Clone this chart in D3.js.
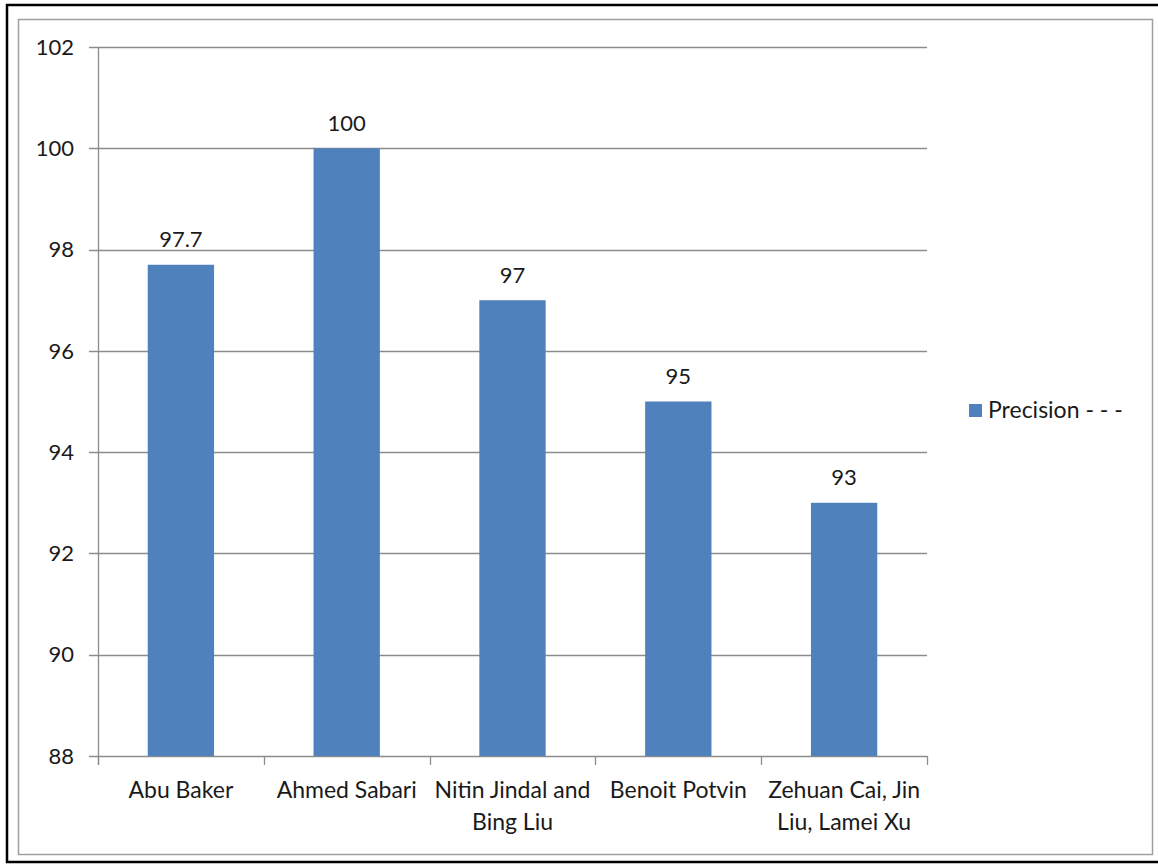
<!DOCTYPE html>
<html>
<head>
  <title>Precision</title>
  <script src="https://d3js.org/d3.v7.min.js"></script>
  <style>
    body { margin: 0; background: #fff; }
    text { font-family: Lato, "Open Sans", sans-serif; fill: #1a1a1a; }
  </style>
</head>
<body>
  <div id="chart"></div>

  <script>
    const authors = ["Abu Baker", "Ahmed Sabari", "Nitin Jindal and Bing Liu", "Benoit Potvin", "Zehuan Cai, Jin Liu, Lamei Xu"];
    const authorLines = [["Abu Baker"], ["Ahmed Sabari"], ["Nitin Jindal and", "Bing Liu"], ["Benoit Potvin"], ["Zehuan Cai, Jin", "Liu, Lamei Xu"]];
    const precision = [97.7, 100, 97, 95, 93];
    const yTicks = [88, 90, 92, 94, 96, 98, 100, 102];
    const seriesName = "Precision - - -";

    const width = 1158, height = 865;
    const plot = {left: 98, right: 927, top: 47, bottom: 756};
    const fs = 23;

    const svg = d3.select("#chart")
      .append("svg")
      .attr("width", width)
      .attr("height", height);

    // frames
    svg.append("rect")
      .attr("x", 7).attr("y", 5)
      .attr("width", 1170).attr("height", 857)
      .attr("fill", "none").attr("stroke", "#000").attr("stroke-width", 2.5);
    svg.append("rect")
      .attr("x", 18.5).attr("y", 19.5)
      .attr("width", 1134).attr("height", 835)
      .attr("fill", "none").attr("stroke", "#a0a0a0").attr("stroke-width", 1.5);

    const x = d3.scaleBand()
      .domain(authors)
      .range([plot.left, plot.right])
      .paddingInner(0.6)
      .paddingOuter(0.3);

    const y = d3.scaleLinear()
      .domain([88, 102])
      .range([plot.bottom, plot.top]);

    // gridlines
    svg.append("g")
      .selectAll("line")
      .data(yTicks)
      .join("line")
      .attr("x1", plot.left - 9)
      .attr("x2", plot.right)
      .attr("y1", d => Math.round(y(d)) + 0.5)
      .attr("y2", d => Math.round(y(d)) + 0.5)
      .attr("stroke", "#8c8c8c")
      .attr("stroke-width", 1.3);

    // y labels
    svg.append("g")
      .selectAll("text")
      .data(yTicks)
      .join("text")
      .attr("x", 74)
      .attr("y", d => y(d))
      .attr("dy", "0.35em")
      .attr("text-anchor", "end")
      .attr("font-size", fs - 1)
      .text(d => d);

    // y axis line
    svg.append("line")
      .attr("x1", plot.left + 0.5).attr("x2", plot.left + 0.5)
      .attr("y1", plot.top).attr("y2", plot.bottom + 9)
      .attr("stroke", "#8c8c8c").attr("stroke-width", 1.3);

    // x ticks at category boundaries
    const bounds = authors.map(a => x(a) - x.step() * x.paddingInner() / 2).concat([plot.right]);
    svg.append("g")
      .selectAll("line")
      .data(bounds)
      .join("line")
      .attr("x1", d => Math.round(d) + 0.5)
      .attr("x2", d => Math.round(d) + 0.5)
      .attr("y1", plot.bottom)
      .attr("y2", plot.bottom + 9)
      .attr("stroke", "#8c8c8c")
      .attr("stroke-width", 1.3);

    // bars
    svg.append("g")
      .selectAll("rect")
      .data(precision)
      .join("rect")
      .attr("x", (d, i) => x(authors[i]))
      .attr("y", d => y(d))
      .attr("width", x.bandwidth())
      .attr("height", d => y(88) - y(d))
      .attr("fill", "#4f81bd");

    // value labels
    svg.append("g")
      .selectAll("text")
      .data(precision)
      .join("text")
      .attr("x", (d, i) => x(authors[i]) + x.bandwidth() / 2)
      .attr("y", d => y(d) - 25)
      .attr("dy", "0.35em")
      .attr("text-anchor", "middle")
      .attr("font-size", fs - 1)
      .text(d => d);

    // category labels
    const cat = svg.append("g")
      .selectAll("text")
      .data(authorLines)
      .join("text")
      .attr("x", (d, i) => x(authors[i]) + x.bandwidth() / 2)
      .attr("y", 790)
      .attr("text-anchor", "middle")
      .attr("font-size", fs);
    cat.selectAll("tspan")
      .data(d => d)
      .join("tspan")
      .attr("x", function() { return this.parentNode.getAttribute("x"); })
      .attr("dy", (d, i) => i === 0 ? "0.35em" : 32)
      .text(d => d);

    // legend
    svg.append("rect")
      .attr("x", 969).attr("y", 404)
      .attr("width", 13).attr("height", 13)
      .attr("fill", "#4f81bd");
    svg.append("text")
      .attr("x", 988).attr("y", 410)
      .attr("dy", "0.35em")
      .attr("font-size", fs)
      .text(seriesName);
  </script>
</body>
</html>
